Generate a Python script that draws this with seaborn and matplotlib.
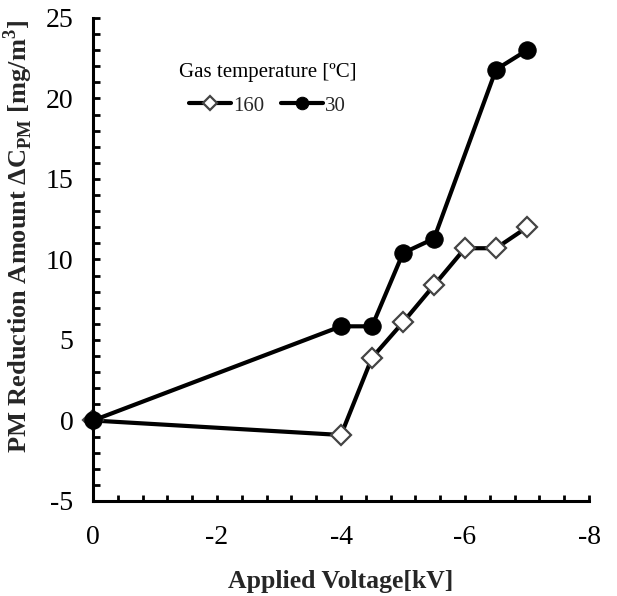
import numpy as np
import pandas as pd
import matplotlib
matplotlib.use("Agg")
import matplotlib.pyplot as plt
from matplotlib.ticker import MultipleLocator
import seaborn as sns

# --- DATA ---
voltage_160 = [0, -4, -4.5, -5, -5.5, -6, -6.5, -7]
pm_160 = [0, -0.9, 3.9, 6.1, 8.4, 10.7, 10.7, 12.0]
voltage_30 = [0, -4, -4.5, -5, -5.5, -6.5, -7]
pm_30 = [0, 5.85, 5.85, 10.4, 11.3, 21.8, 23.0]
series_labels = ["160", "30"]

sns.set_style("white")
plt.rcParams['font.family'] = ['Liberation Serif', 'DejaVu Serif']
plt.rcParams['mathtext.fontset'] = 'custom'
plt.rcParams['mathtext.rm'] = 'Liberation Serif'
plt.rcParams['mathtext.bf'] = 'Liberation Serif:bold'
plt.rcParams['axes.unicode_minus'] = False
plt.rcParams['xtick.bottom'] = True
plt.rcParams['ytick.left'] = True

fig = plt.figure(figsize=(6.17, 5.96), dpi=100)
ax = fig.add_axes([0.1507, 0.1594, 0.804, 0.8104])

df160 = pd.DataFrame({"v": voltage_160, "pm": pm_160})
df30 = pd.DataFrame({"v": voltage_30, "pm": pm_30})

sns.lineplot(data=df160, x="v", y="pm", ax=ax, color="black", lw=3,
             marker="D", markersize=10.5, markerfacecolor="white",
             markeredgecolor="#444444", markeredgewidth=1.6,
             label=series_labels[0], zorder=2)
sns.lineplot(data=df30, x="v", y="pm", ax=ax, color="black", lw=3,
             marker="o", markersize=12.5, markerfacecolor="black",
             markeredgecolor="black", label=series_labels[1], zorder=3)

ax.set_xlim(0, -8)
ax.set_ylim(-5, 25)
ax.xaxis.set_major_locator(MultipleLocator(2))
ax.xaxis.set_minor_locator(MultipleLocator(0.4))
ax.yaxis.set_major_locator(MultipleLocator(5))
ax.yaxis.set_minor_locator(MultipleLocator(1))
ax.tick_params(which="both", direction="in", width=2, labelsize=20,
               color="black", labelcolor="black")
ax.tick_params(axis="x", which="both", length=4.5, pad=17)
ax.tick_params(axis="y", which="both", length=5, pad=14)
for line in ax.lines:
    line.set_clip_on(False)

for s in ["top", "right"]:
    ax.spines[s].set_visible(False)
for s in ["left", "bottom"]:
    ax.spines[s].set_linewidth(2.2)
    ax.spines[s].set_color("black")

ax.set_xlabel("Applied Voltage[kV]", fontsize=18.5, fontweight="bold")
ax.set_ylabel(r"PM Reduction Amount $\mathbf{\Delta C}_{\mathbf{PM}}$ [mg/m$^\mathbf{3}$]",
              fontsize=19, fontweight="bold")
ax.xaxis.set_label_coords(0.5, -0.142)
ax.yaxis.set_label_coords(-0.117, 0.547)

leg = ax.legend(title="Gas temperature [ºC]", loc="upper left",
                bbox_to_anchor=(0.135, 0.945), ncol=2, frameon=False,
                fontsize=15, title_fontsize=15, handlelength=2.0,
                columnspacing=0.8, handletextpad=0.1, markerscale=0.72,
                labelspacing=0.8)
leg.get_title().set_color("black")
leg._legend_box.sep = 10

fig.savefig("out.png", dpi=100)
